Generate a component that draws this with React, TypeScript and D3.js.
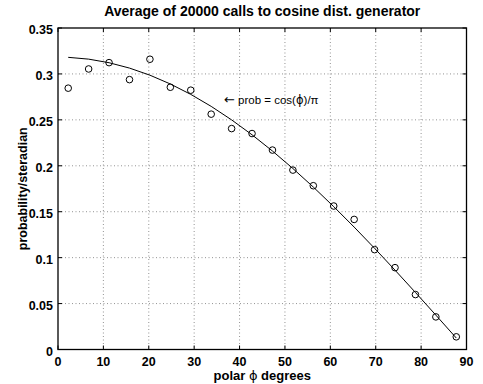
import React from "react";
import * as d3 from "d3";

const phiCenters = [2.25, 6.75, 11.25, 15.75, 20.25, 24.75, 29.25, 33.75, 38.25, 42.75, 47.25, 51.75, 56.25, 60.75, 65.25, 69.75, 74.25, 78.75, 83.25, 87.75];
const measured = [0.2845, 0.3054, 0.3123, 0.2938, 0.316, 0.2855, 0.2823, 0.2562, 0.2405, 0.2351, 0.2171, 0.1953, 0.1783, 0.1562, 0.1416, 0.1087, 0.0891, 0.0598, 0.0355, 0.0138];
const theory = [0.31806, 0.31611, 0.3122, 0.30636, 0.29864, 0.28907, 0.27773, 0.26467, 0.24997, 0.23374, 0.21607, 0.19706, 0.17684, 0.15553, 0.13326, 0.11017, 0.0864, 0.0621, 0.03741, 0.0125];
const xTicks = [0, 10, 20, 30, 40, 50, 60, 70, 80, 90];
const yTicks = [0, 0.05, 0.1, 0.15, 0.2, 0.25, 0.3, 0.35];
const yTickLabels = ["0", "0.05", "0.1", "0.15", "0.2", "0.25", "0.3", "0.35"];

const W = 483, H = 384;
const L = 58, R = 466.5, T = 28, B = 349.5;
const FONT = "'Liberation Sans', Arial, Helvetica, sans-serif";
const SYM = "'DejaVu Sans', sans-serif";

export default function App() {
  const x = d3.scaleLinear().domain([0, 90]).range([L, R]);
  const y = d3.scaleLinear().domain([0, 0.35]).range([B, T]);
  const line = d3.line<number>().x((_, i) => x(phiCenters[i])).y((d) => y(d));
  const tl = 4;
  return (
    <svg width={W} height={H} style={{ position: "absolute", left: 0, top: 0, background: "#fff" }} fontFamily={FONT}>
      <rect x={0} y={0} width={W} height={H} fill="#fff" />
      {xTicks.slice(1, -1).map((t) => (
        <line key={"gx" + t} x1={x(t)} x2={x(t)} y1={T} y2={B} stroke="#777" strokeWidth={0.8} strokeDasharray="1 2.5" />
      ))}
      {yTicks.slice(1, -1).map((t) => (
        <line key={"gy" + t} x1={L} x2={R} y1={y(t)} y2={y(t)} stroke="#777" strokeWidth={0.8} strokeDasharray="1 2.5" />
      ))}
      {xTicks.map((t) => (
        <g key={"tx" + t}>
          <line x1={x(t)} x2={x(t)} y1={B} y2={B - tl} stroke="#000" />
          <line x1={x(t)} x2={x(t)} y1={T} y2={T + tl} stroke="#000" />
          <text x={x(t)} y={366} textAnchor="middle" fontSize={12.5} fontWeight="bold">{t}</text>
        </g>
      ))}
      {yTicks.map((t, i) => (
        <g key={"ty" + t}>
          <line x1={L} x2={L + tl} y1={y(t)} y2={y(t)} stroke="#000" />
          <line x1={R} x2={R - tl} y1={y(t)} y2={y(t)} stroke="#000" />
          <text x={53} y={y(t) + 6} textAnchor="end" fontSize={12.5} fontWeight="bold">{yTickLabels[i]}</text>
        </g>
      ))}
      <rect x={L} y={T} width={R - L} height={B - T} fill="none" stroke="#000" strokeWidth={1.3} />
      <path d={line(theory) || ""} fill="none" stroke="#000" strokeWidth={1} />
      {measured.map((v, i) => (
        <circle key={"p" + i} cx={x(phiCenters[i])} cy={y(v)} r={3.3} fill="none" stroke="#000" strokeWidth={1} />
      ))}
      <text x={224} y={104} fontSize={11.5} fill="#000">
        <tspan fontFamily={SYM} fontSize={13}>←</tspan> prob = cos(<tspan fontFamily={SYM}>ϕ</tspan>)/π
      </text>
      <text x={(L + R) / 2} y={16} textAnchor="middle" fontSize={14} fontWeight="bold">Average of 20000 calls to cosine dist. generator</text>
      <text x={(L + R) / 2} y={380} textAnchor="middle" fontSize={13} fontWeight="bold">
        polar <tspan fontWeight="normal" fontFamily={SYM}>ϕ</tspan> degrees
      </text>
      <text transform={`translate(27,${(T + B) / 2}) rotate(-90)`} textAnchor="middle" fontSize={12.5} fontWeight="bold">probability/steradian</text>
    </svg>
  );
}
